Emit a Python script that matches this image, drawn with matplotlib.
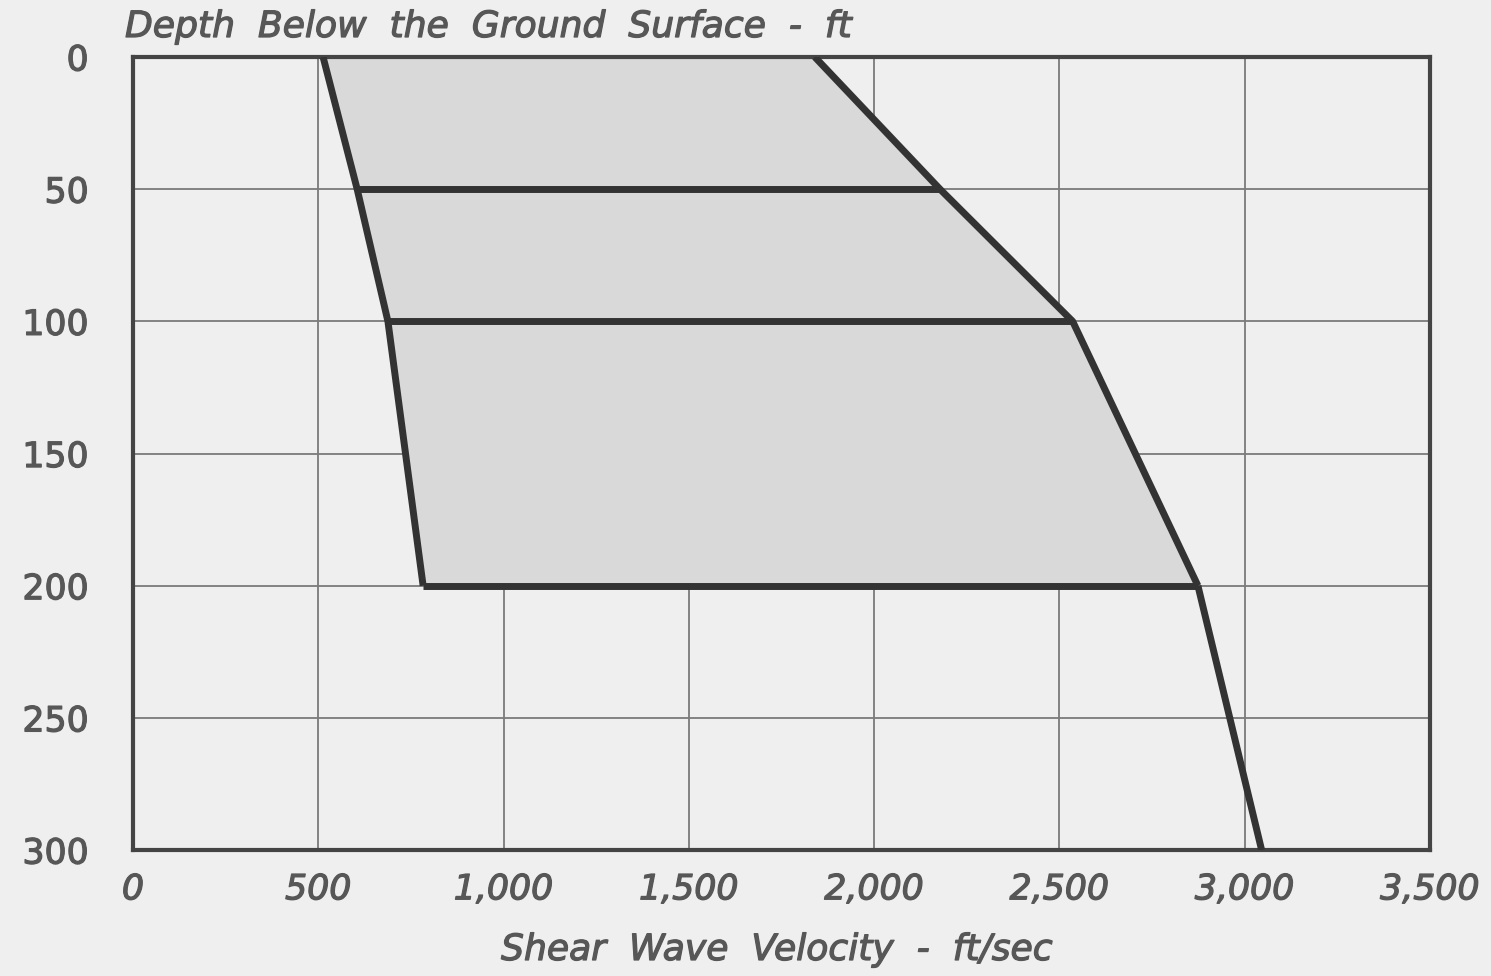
import matplotlib.pyplot as plt
import matplotlib.patheffects as pe

# shear wave velocity band (ft/sec) vs depth (ft)
depth = [0, 50, 100, 200]
lower_vs = [513, 605, 688, 783]
upper_vs = [1840, 2178, 2536, 2874]
upper_depth_ext = [200, 300]
upper_vs_ext = [2874, 3046]

x_ticks = [0, 500, 1000, 1500, 2000, 2500, 3000, 3500]
x_tick_labels = ["0", "500", "1,000", "1,500", "2,000", "2,500", "3,000", "3,500"]
y_ticks = [0, 50, 100, 150, 200, 250, 300]

bg = "#efefef"
ink = "#333333"
text_col = "#575757"
plt.rcParams['font.family'] = ['DejaVu Sans']
fx = [pe.withStroke(linewidth=0.9, foreground=text_col)]

fig = plt.figure(figsize=(14.91, 9.76), dpi=100, facecolor=bg)
ax = fig.add_axes([0.0892, 0.129, 0.8698, 0.8126])
ax.set_facecolor(bg)

ax.set_xlim(0, 3500)
ax.set_ylim(300, 0)

ax.set_xticks(x_ticks)
ax.set_xticklabels(x_tick_labels)
ax.set_yticks(y_ticks)
ax.grid(True, color="#7a7a7a", linewidth=1.3)
ax.set_axisbelow(True)
ax.tick_params(length=0, labelsize=25, colors=text_col)
ax.tick_params(axis='y', pad=32)
ax.tick_params(axis='x', pad=16)
for lab in ax.get_xticklabels():
    lab.set_fontstyle('italic')
    lab.set_path_effects(fx)
for lab in ax.get_yticklabels():
    lab.set_path_effects(fx)

for s in ax.spines.values():
    s.set_linewidth(3)
    s.set_color("#444444")

# shaded band
ax.fill_betweenx(depth, lower_vs, upper_vs, color="#d9d9d9", zorder=2, linewidth=0)

lw = 5
ax.plot(lower_vs, depth, color=ink, linewidth=lw, zorder=3, solid_capstyle='butt')
ax.plot(upper_vs, depth, color=ink, linewidth=lw, zorder=3, solid_capstyle='butt')
ax.plot(upper_vs_ext, upper_depth_ext, color=ink, linewidth=lw, zorder=3, solid_capstyle='butt')
for d, lo, hi in zip(depth[1:], lower_vs[1:], upper_vs[1:]):
    ax.plot([lo, hi], [d, d], color=ink, linewidth=lw, zorder=3, solid_capstyle='butt')

# wide word spacing like the original lettering
fig.text(777 / 1491, 1 - 950 / 976, "Shear  Wave  Velocity  -  ft/sec", fontsize=26,
         fontstyle='italic', color=text_col, ha='center', va='center', path_effects=fx)
fig.text(125 / 1491, 1 - 27 / 976, "Depth  Below  the  Ground  Surface  -  ft", fontsize=26,
         fontstyle='italic', color=text_col, ha='left', va='center', path_effects=fx)

fig.savefig("out.png", dpi=100, facecolor=bg)
